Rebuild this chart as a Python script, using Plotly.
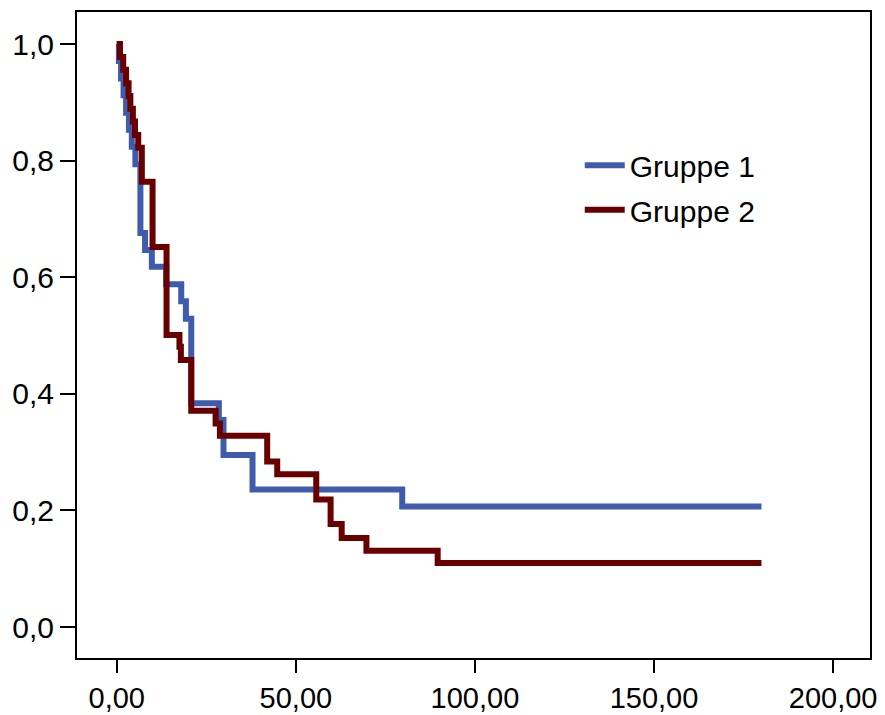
import plotly.graph_objects as go

# Kaplan-Meier style step data (time, survival after the step)
g1_time = [0, 0.6, 1.2, 1.9, 2.6, 3.4, 4.2, 5.2, 6.6, 7.9, 9.8, 13.8, 18.0, 19.3, 20.8, 28.5, 29.8, 37.9, 79.7, 180]
g1_surv = [1.0, 0.971, 0.941, 0.912, 0.882, 0.853, 0.824, 0.794, 0.676, 0.647, 0.618, 0.588, 0.559, 0.529, 0.384, 0.355, 0.295, 0.236, 0.207, 0.207]

g2_time = [0, 0.9, 1.8, 2.6, 3.3, 3.8, 4.5, 5.1, 6.0, 7.0, 10.0, 13.9, 17.5, 17.9, 20.8, 27.6, 28.8, 42.0, 44.8, 55.7, 59.7, 62.8, 69.7, 89.6, 180]
g2_surv = [1.0, 0.978, 0.956, 0.933, 0.911, 0.889, 0.867, 0.844, 0.822, 0.764, 0.652, 0.501, 0.481, 0.458, 0.371, 0.349, 0.328, 0.284, 0.262, 0.219, 0.177, 0.153, 0.131, 0.110, 0.110]

x_ticks = [0, 50, 100, 150, 200]
y_ticks = [0.0, 0.2, 0.4, 0.6, 0.8, 1.0]

fig = go.Figure()
fig.add_trace(go.Scatter(x=g1_time, y=g1_surv, mode="lines", name="Gruppe 1",
                         legend="legend",
                         line=dict(shape="hv", color="#3F5BAE", width=6)))
fig.add_trace(go.Scatter(x=g2_time, y=g2_surv, mode="lines", name="Gruppe 2",
                         legend="legend2",
                         line=dict(shape="hv", color="#680000", width=6)))

leg_common = dict(xanchor="left", yanchor="top", bgcolor="rgba(0,0,0,0)",
                  font=dict(size=30), itemwidth=40)
# the page body adds an 8px offset, so the figure is sized to fit the window
fig.update_layout(
    width=877, height=707,
    margin=dict(l=69, r=15, t=4, b=57, autoexpand=False),
    paper_bgcolor="white", plot_bgcolor="white",
    separators=",.",
    font=dict(family="Liberation Sans, Arial, sans-serif", size=30, color="black"),
    showlegend=True,
    legend=dict(x=0.634, y=0.803, **leg_common),
    legend2=dict(x=0.634, y=0.734, **leg_common),
)
fig.update_xaxes(range=[-11.1, 210.3], tickvals=x_ticks, tickformat=".2f",
                 automargin=False,
                 showgrid=False, zeroline=False, showline=True, linecolor="black",
                 linewidth=2, mirror=True, ticks="outside", ticklen=13, tickwidth=2,
                 tickcolor="black", tickfont=dict(size=29))
fig.update_yaxes(range=[-0.053, 1.055], tickvals=y_ticks, tickformat=".1f",
                 automargin=False,
                 showgrid=False, zeroline=False, showline=True, linecolor="black",
                 linewidth=2, mirror=True, ticks="outside", ticklen=15, tickwidth=2,
                 tickcolor="black", tickfont=dict(size=30))

fig.write_html("out.html")
